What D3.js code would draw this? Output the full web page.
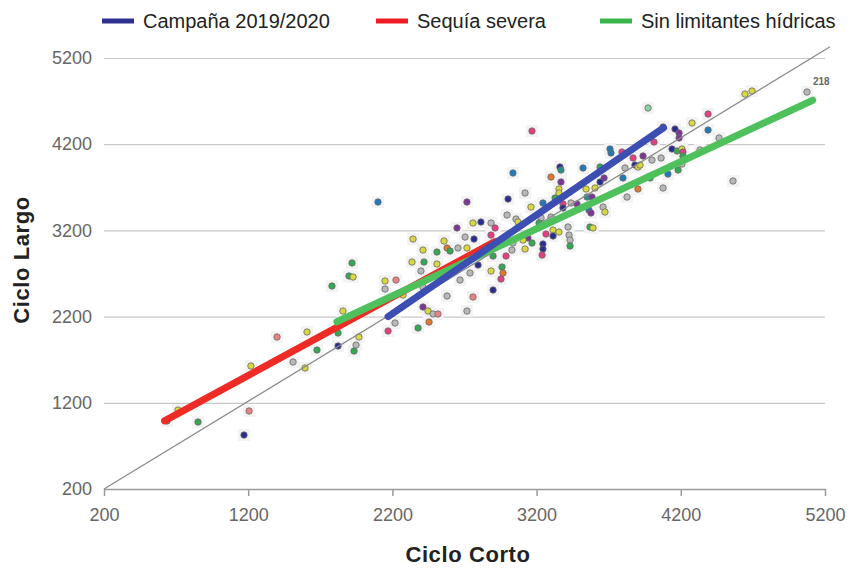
<!DOCTYPE html>
<html>
<head>
<meta charset="utf-8">
<script src="https://cdn.jsdelivr.net/npm/d3@7"></script>
<style>
  body { margin: 0; background: #fff; }
  svg { display: block; font-family: "Liberation Sans", Arial, sans-serif; }
</style>
</head>
<body>
<div id="chart"></div>
<script>
// Axis ticks (same for both axes)
const tickValues = [200, 1200, 2200, 3200, 4200, 5200];

// Legend / series names
const seriesNames = ["Campaña 2019/2020", "Sequía severa", "Sin limitantes hídricas"];

// Fitted lines, [ciclo corto, ciclo largo] end points
const campanaLine = [[2170, 2200], [4080, 4390]];
const sequiaLine = [[620, 990], [2910, 3070]];
const sinLimitLine = [[1815, 2140], [5115, 4710]];
const refLine = [[200, 200], [5235, 5330]];

// Scatter of individual sites: [ciclo corto, ciclo largo, grupo]
const points = [
  [1171, 826, "n"], [1206, 1105, "s"], [713, 1116, "y"], [852, 977, "g"], [637, 989, "g"],
  [1219, 1627, "y"], [1400, 1963, "s"], [1511, 1673, "gr"], [1608, 2021, "y"], [1594, 1604, "y"],
  [1677, 1812, "g"], [1781, 2555, "g"], [1899, 2671, "g"], [1920, 2822, "g"], [1927, 2659, "y"],
  [1857, 2265, "y"], [1823, 2010, "g"], [1823, 1859, "n"], [1934, 1801, "g"], [1968, 1963, "y"],
  [1948, 1870, "gr"], [2100, 3529, "b"], [2149, 2613, "y"], [2225, 2624, "s"], [2149, 2520, "gr"],
  [2343, 3100, "y"], [2412, 2972, "y"], [2336, 2833, "y"], [2419, 2833, "g"], [2509, 2949, "g"],
  [2558, 3077, "y"], [2509, 2810, "y"], [2648, 3228, "p"], [2398, 2729, "gr"], [2579, 2996, "o"],
  [2600, 2961, "g"], [2655, 2996, "gr"], [2717, 2996, "y"], [2704, 3123, "gr"], [2759, 3286, "y"],
  [2814, 3297, "n"], [2884, 3286, "gr"], [2912, 3228, "k"], [2884, 3146, "k"], [2766, 3100, "n"],
  [2717, 3529, "p"], [3002, 3564, "n"], [2995, 3378, "gr"], [3057, 3332, "gr"], [2579, 2439, "gr"],
  [2759, 2427, "s"], [2669, 2624, "gr"], [2738, 2706, "gr"], [2794, 2798, "n"], [2884, 2729, "y"],
  [2960, 2775, "g"], [2967, 2706, "o"], [2953, 2636, "k"], [2898, 2508, "n"], [2412, 2543, "gr"],
  [2274, 2450, "y"], [2412, 2311, "p"], [2447, 2265, "y"], [2482, 2230, "gr"], [2516, 2230, "s"],
  [2717, 2265, "gr"], [2218, 2126, "gr"], [2170, 2033, "k"], [2378, 2068, "g"], [2454, 2137, "o"],
  [2967, 3042, "g"], [2898, 2903, "g"], [2988, 2903, "k"], [3029, 2972, "gr"], [3973, 4620, "lg"],
  [3168, 4353, "k"], [3036, 3866, "b"], [3522, 3924, "b"], [3362, 3935, "n"], [3369, 3900, "t"],
  [3300, 3819, "o"], [3369, 3761, "p"], [3355, 3680, "y"], [3355, 3634, "y"], [3640, 3935, "g"],
  [3709, 4144, "b"], [3716, 4098, "b"], [3792, 4109, "k"], [3869, 4040, "k"], [3938, 4063, "p"],
  [4000, 4016, "gr"], [4063, 4040, "gr"], [4077, 4399, "p"], [4014, 4225, "k"], [4111, 3854, "b"],
  [3813, 3924, "gr"], [3882, 3958, "n"], [3903, 3935, "y"], [3917, 3958, "y"], [3799, 3808, "b"],
  [3987, 3808, "g"], [3903, 3680, "o"], [3827, 3587, "gr"], [4077, 3692, "gr"], [3668, 3808, "p"],
  [3640, 3761, "n"], [3605, 3692, "y"], [3543, 3680, "y"], [3550, 3587, "t"], [3584, 3587, "p"],
  [3480, 3506, "p"], [3439, 3518, "gr"], [3383, 3506, "k"], [3383, 3460, "n"], [3328, 3576, "g"],
  [3244, 3518, "b"], [3120, 3634, "gr"], [3161, 3471, "y"], [3071, 3297, "y"], [3231, 3344, "gr"],
  [3300, 3355, "gr"], [3217, 3286, "g"], [3314, 3204, "y"], [3265, 3158, "k"], [3314, 3135, "n"],
  [3355, 3181, "y"], [3418, 3239, "gr"], [3425, 3146, "gr"], [3432, 3088, "gr"], [3432, 3019, "g"],
  [3563, 3436, "b"], [3577, 3402, "p"], [3661, 3471, "gr"], [3674, 3413, "y"], [3570, 3239, "g"],
  [3591, 3228, "y"], [3140, 3112, "p"], [3168, 3054, "g"], [3106, 3088, "y"], [3036, 3054, "gr"],
  [3120, 2984, "y"], [3244, 3042, "n"], [3244, 2984, "n"], [3238, 2914, "k"], [4389, 4550, "k"],
  [4278, 4446, "y"], [4645, 4782, "y"], [4694, 4817, "y"], [4160, 4376, "n"], [4188, 4330, "p"],
  [4188, 4272, "p"], [4389, 4364, "b"], [4465, 4272, "gr"], [4139, 4144, "n"], [4174, 4121, "g"],
  [4208, 4144, "y"], [4215, 4109, "k"], [4215, 4063, "g"], [4181, 3900, "g"], [4208, 3970, "gr"],
  [4333, 4133, "gr"], [4562, 3773, "gr"], [5075, 4805, "gr"]
];
const labelledPoint = { id: "218", x: 5075, y: 4805 };

const groups = ["y", "g", "lg", "b", "n", "p", "k", "s", "o", "gr", "t"];
const groupColors = ["#d9d83f", "#34a853", "#8fd3a6", "#2479b8", "#2b2c8f", "#7d3597",
                     "#e43f83", "#ea8284", "#e2782f", "#b8b8b8", "#2a8f8a"];

const width = 859, height = 568;
const margin = { top: 58, right: 34, bottom: 79, left: 104 };

const svg = d3.select("#chart").append("svg")
    .attr("width", width)
    .attr("height", height);

const x = d3.scaleLinear().domain([200, 5200]).range([margin.left, width - margin.right]);
const y = d3.scaleLinear().domain([200, 5200]).range([height - margin.bottom, margin.top]);
const color = d3.scaleOrdinal().domain(groups).range(groupColors);
const fmt = d3.format("d");

// Horizontal gridlines + y labels
const yAxis = svg.append("g")
    .attr("transform", `translate(${margin.left},0)`)
    .call(d3.axisLeft(y).tickValues(tickValues).tickFormat(fmt)
        .tickSize(-(width - margin.left - margin.right)).tickPadding(12));
yAxis.select(".domain").remove();
yAxis.selectAll(".tick line")
    .attr("stroke", "#c8c8c8")
    .attr("stroke-width", 1.2)
    .filter(d => d === 200).remove();
yAxis.selectAll(".tick text")
    .attr("fill", "#666")
    .style("font-size", "18px");

// X axis
const xAxis = svg.append("g")
    .attr("transform", `translate(0,${y(200)})`)
    .call(d3.axisBottom(x).tickValues(tickValues).tickFormat(fmt)
        .tickSize(7).tickSizeOuter(0).tickPadding(12));
xAxis.select(".domain").attr("stroke", "#9a9a9a").attr("stroke-width", 1.5);
xAxis.selectAll(".tick line").attr("stroke", "#9a9a9a").attr("stroke-width", 1.5);
xAxis.selectAll(".tick text")
    .attr("fill", "#666")
    .style("font-size", "18px");

// Points (with the pale halo seen around them)
const pts = svg.append("g");
pts.selectAll("rect.halo")
    .data(points)
    .join("rect")
      .attr("class", "halo")
      .attr("x", d => x(d[0]) - 6)
      .attr("y", d => y(d[1]) - 6)
      .attr("width", 12)
      .attr("height", 12)
      .attr("fill", "#f3f3f3");
pts.selectAll("circle")
    .data(points)
    .join("circle")
      .attr("cx", d => x(d[0]))
      .attr("cy", d => y(d[1]))
      .attr("r", 3.2)
      .attr("fill", d => color(d[2]))
      .attr("stroke", "#6a6a6a")
      .attr("stroke-width", 0.8);

svg.append("text")
    .attr("x", x(labelledPoint.x) + 6)
    .attr("y", y(labelledPoint.y) - 7)
    .attr("fill", "#666")
    .style("font-size", "10px")
    .style("font-weight", "bold")
    .text(labelledPoint.id);

// 1:1 reference line
const line = d3.line().x(d => x(d[0])).y(d => y(d[1]));
svg.append("path")
    .attr("d", line(refLine))
    .attr("fill", "none")
    .attr("stroke", "#8a8a8a")
    .attr("stroke-width", 1.3);

// Fitted lines
const fits = [
  { data: sequiaLine, color: "#ee2b25" },
  { data: sinLimitLine, color: "#4fc15c" },
  { data: campanaLine, color: "#3c4eb2" }
];
fits.forEach(f => {
  svg.append("path")
      .attr("d", line(f.data))
      .attr("fill", "none")
      .attr("stroke", f.color)
      .attr("stroke-width", 7)
      .attr("stroke-linecap", "round");
});

// Legend
const legendColors = ["#2e3192", "#ed1c24", "#39b54a"];
const legendX = [102, 376, 600];
const legend = svg.append("g");
seriesNames.forEach((name, i) => {
  legend.append("line")
      .attr("x1", legendX[i]).attr("x2", legendX[i] + 32)
      .attr("y1", 21).attr("y2", 21)
      .attr("stroke", legendColors[i])
      .attr("stroke-width", 5);
  legend.append("text")
      .attr("x", legendX[i] + 41)
      .attr("y", 28)
      .attr("fill", "#222")
      .style("font-size", "20px")
      .text(name);
});

// Axis titles
svg.append("text")
    .attr("x", 468)
    .attr("y", 562)
    .attr("text-anchor", "middle")
    .attr("fill", "#222")
    .style("font-size", "22px")
    .style("letter-spacing", "0.6px")
    .style("font-weight", "bold")
    .text("Ciclo Corto");

svg.append("text")
    .attr("transform", "translate(29,260) rotate(-90)")
    .attr("text-anchor", "middle")
    .attr("fill", "#222")
    .style("font-size", "22px")
    .style("letter-spacing", "0.6px")
    .style("font-weight", "bold")
    .text("Ciclo Largo");
</script>
</body>
</html>
